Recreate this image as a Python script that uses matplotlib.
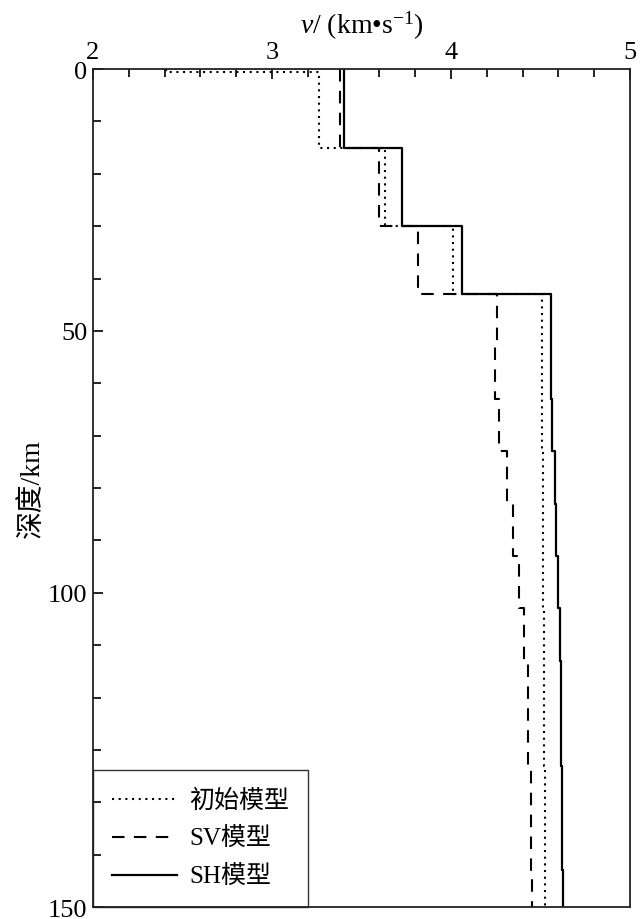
import matplotlib
matplotlib.use("Agg")
import matplotlib.pyplot as plt
import numpy as np

plt.rcParams.update({
    "font.family": ["Liberation Serif", "Noto Sans CJK SC", "DejaVu Serif"],
    "mathtext.fontset": "custom",
    "mathtext.rm": "Liberation Serif",
    "mathtext.it": "Liberation Serif:italic",
    "font.size": 18,
})

# 层顶深度 (km)
top_init = [0, 0.5, 15, 30, 43, 53, 63, 73, 83, 93, 103, 113, 123, 133, 143, 153]
top_model = [0, 15, 30, 43, 53, 63, 73, 83, 93, 103, 113, 123, 133, 143, 153]
depth_max = 160

# 各层速度 (km/s)
v_init = [2.41, 3.264, 3.634, 4.012, 4.507, 4.507, 4.510, 4.512, 4.514,
          4.516, 4.518, 4.520, 4.522, 4.523, 4.524, 4.526]
v_sv = [3.381, 3.600, 3.815, 4.258, 4.247, 4.269, 4.312, 4.348, 4.380,
        4.410, 4.428, 4.428, 4.447, 4.447, 4.451]
v_sh = [3.404, 3.726, 4.062, 4.557, 4.557, 4.563, 4.583, 4.589, 4.600,
        4.608, 4.612, 4.612, 4.619, 4.619, 4.626]


def steps(tops, vels):
    """把层状模型转成阶梯折线"""
    bots = list(tops[1:]) + [depth_max]
    z = np.column_stack([tops, bots]).ravel()
    v = np.repeat(vels, 2)
    return v, z


fig = plt.figure(figsize=(6.4, 9.2), dpi=100)
ax = fig.add_axes([0.1453, 0.0130, 0.8391, 0.9109])

x, z = steps(top_init, v_init)
ax.plot(x, z, color="k", lw=1.5, linestyle=(0, (1, 2.2)), label="初始模型")
x, z = steps(top_model, v_sv)
ax.plot(x, z, color="k", lw=1.5, linestyle=(0, (6, 4.5)), label="SV模型")
x, z = steps(top_model, v_sh)
ax.plot(x, z, color="k", lw=1.6, label="SH模型")

ax.set_xlim(2, 5)
ax.set_ylim(depth_max, 0)
ax.xaxis.tick_top()
ax.xaxis.set_label_position("top")
ax.set_xticks([2, 3, 4, 5])
ax.set_xticks(np.arange(2, 5.01, 0.2), minor=True)
ax.set_yticks([0, 50, 100, 160])
ax.set_yticklabels(["0", "50", "100", "150"])
ax.set_yticks(np.arange(0, 161, 10), minor=True)
ax.tick_params(which="both", direction="in", top=True, bottom=False,
               left=True, right=False, labelsize=19, pad=4)
ax.tick_params(which="major", length=7, width=1.2)
ax.tick_params(which="minor", length=6, width=1.2)
for s in ax.spines.values():
    s.set_linewidth(1.3)
    s.set_color("#222222")

ax.set_xlabel(r"$v$/ (km•s$^{-1}$)", fontsize=20, labelpad=6)
ax.set_ylabel("深度/km", fontsize=20, labelpad=2)

leg = ax.legend(loc="lower left", fontsize=18, frameon=True, fancybox=False,
                edgecolor="#333333", framealpha=1, borderaxespad=0,
                handlelength=2.6, handletextpad=0.5, labelspacing=0.6,
                borderpad=0.75)
leg.get_frame().set_linewidth(1.0)
leg.set_zorder(1)

fig.savefig("out.png", dpi=100)
